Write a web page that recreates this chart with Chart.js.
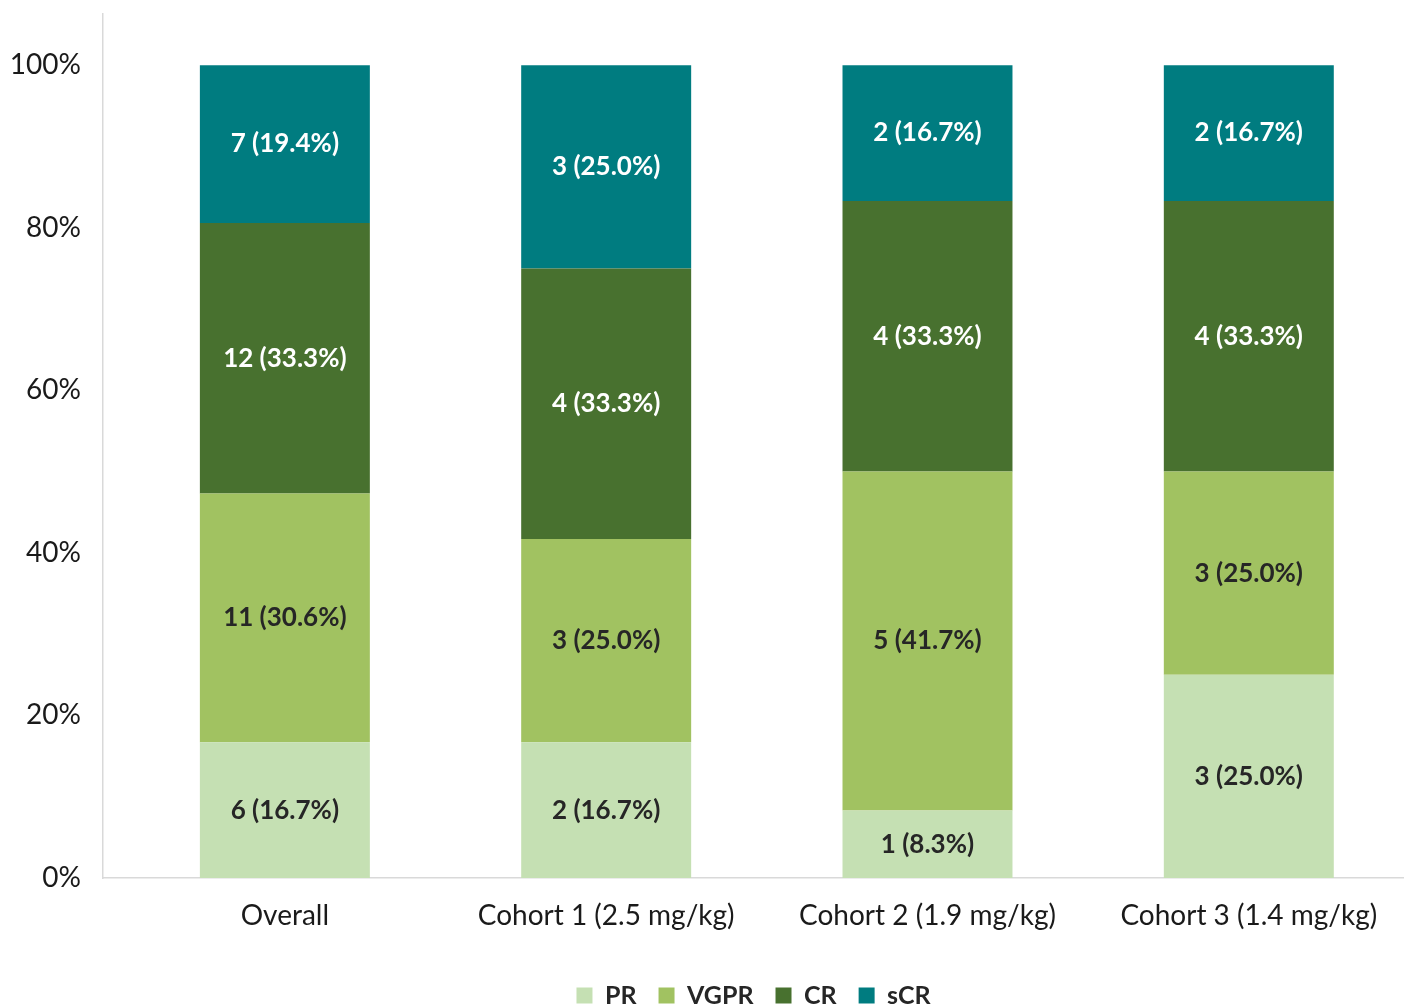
<!DOCTYPE html>
<html>
<head>
<meta charset="utf-8">
<script src="https://cdn.jsdelivr.net/npm/chart.js@4.4.1/dist/chart.umd.min.js"></script>
<style>
  html, body { margin: 0; padding: 0; background: #ffffff; }
  #wrap { width: 1404px; height: 1006px; position: relative; }
</style>
</head>
<body>
<div id="wrap"><canvas id="chart"></canvas></div>
<script>
// Response categories per cohort
const categories = ['Overall', 'Cohort 1 (2.5 mg/kg)', 'Cohort 2 (1.9 mg/kg)', 'Cohort 3 (1.4 mg/kg)'];
const seriesNames = ['PR', 'VGPR', 'CR', 'sCR'];

// Patient counts per response category
const prCounts   = [6, 2, 1, 3];
const vgprCounts = [11, 3, 5, 3];
const crCounts   = [12, 4, 4, 4];
const scrCounts  = [7, 3, 2, 2];

// Share of patients (%) per response category
const prPct   = [16.7, 16.7, 8.3, 25.0];
const vgprPct = [30.6, 25.0, 41.7, 25.0];
const crPct   = [33.3, 33.3, 33.3, 33.3];
const scrPct  = [19.4, 25.0, 16.7, 16.7];

const yTickValues = [0, 20, 40, 60, 80, 100];

const colors = ['#C5E0B3', '#A1C261', '#48712F', '#007C80'];
const labelColors = ['#262626', '#262626', '#FFFFFF', '#FFFFFF'];
const FONT = 'Lato, "Open Sans", sans-serif';

const countSets = [prCounts, vgprCounts, crCounts, scrCounts];
const pctSets = [prPct, vgprPct, crPct, scrPct];

const datasets = seriesNames.map((name, s) => ({
  label: name,
  data: pctSets[s].map((v, i) => ({ x: i, y: v })),
  counts: countSets[s],
  backgroundColor: colors[s],
  borderWidth: 0,
  barPercentage: 0.529,
  categoryPercentage: 1.0,
  labelColor: labelColors[s]
}));

// Writes "n (p%)" in the middle of every segment
const segmentLabels = {
  id: 'segmentLabels',
  afterDatasetsDraw(chart) {
    const ctx = chart.ctx;
    ctx.save();
    ctx.font = 'bold 26px ' + FONT;
    ctx.textAlign = 'center';
    ctx.textBaseline = 'middle';
    chart.data.datasets.forEach((ds, di) => {
      const meta = chart.getDatasetMeta(di);
      meta.data.forEach((bar, i) => {
        const p = ds.data[i].y;
        const txt = ds.counts[i] + ' (' + p.toFixed(1) + '%)';
        ctx.fillStyle = ds.labelColor;
        ctx.fillText(txt, bar.x, (bar.y + bar.base) / 2);
      });
    });
    ctx.restore();
  }
};

new Chart(document.getElementById('chart'), {
  type: 'bar',
  data: { datasets },
  plugins: [segmentLabels],
  options: {
    responsive: true,
    maintainAspectRatio: false,
    animation: false,
    layout: { padding: { left: 0, right: 0, top: 14, bottom: -12 } },
    plugins: {
      legend: {
        position: 'bottom',
        fullSize: false,
        labels: {
          boxWidth: 16,
          boxHeight: 16,
          padding: 22,
          color: '#262626',
          font: { family: FONT, size: 25, weight: 'bold' }
        }
      },
      tooltip: { enabled: false }
    },
    scales: {
      x: {
        type: 'linear',
        stacked: true,
        offset: false,
        min: -0.566,
        max: 3.483,
        afterBuildTicks(scale) {
          scale.ticks = categories.map((c, i) => ({ value: i }));
        },
        afterFit(scale) {
          scale.height = 83;
          scale.paddingLeft = 0;
          scale.paddingRight = 0;
        },
        grid: { display: false, drawTicks: false },
        border: { display: true, color: '#D9D9D9', width: 1.5 },
        ticks: {
          padding: 21,
          maxRotation: 0,
          autoSkip: false,
          color: '#1A1A1A',
          font: { family: FONT, size: 28 },
          callback: (v) => categories[v]
        }
      },
      y: {
        stacked: true,
        min: 0,
        max: 106.3,
        afterBuildTicks(scale) {
          scale.ticks = yTickValues.map(v => ({ value: v }));
        },
        afterFit(scale) {
          scale.width = 103;
          scale.paddingTop = 0;
          scale.paddingBottom = 0;
        },
        grid: { display: false, drawTicks: false },
        border: { display: true, color: '#D9D9D9', width: 1.5 },
        ticks: {
          padding: 22,
          color: '#1A1A1A',
          font: { family: FONT, size: 28 },
          callback: (v) => v + '%'
        }
      }
    }
  }
});
</script>
</body>
</html>
